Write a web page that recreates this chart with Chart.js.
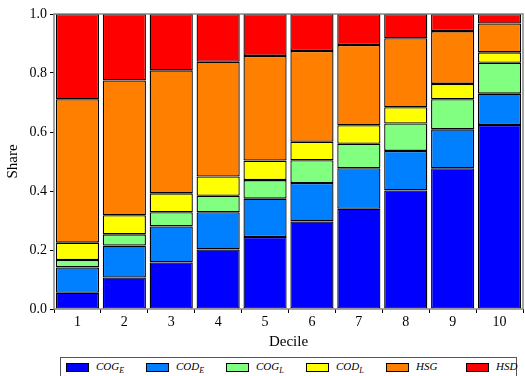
<!DOCTYPE html>
<html>
<head>
  <title>Share by decile</title>
  <script src="https://cdn.jsdelivr.net/npm/chart.js"></script>
  <style>
    body { margin: 0; background: #fff; }
    #wrap { position: relative; width: 525px; height: 376px; overflow: hidden; }
    #contenedor { position: absolute; left: 0; top: 0; width: 525px; height: 355px; }
    #leyenda {
      position: absolute; left: 60px; top: 357px; width: 457px; height: 26px;
      border: 1.5px solid #555; box-sizing: border-box;
      font-family: "Liberation Serif", serif; font-style: italic; font-size: 11px;
    }
    #leyenda .item { position: absolute; top: 2px; white-space: nowrap; }
    #leyenda .sw { display: inline-block; width: 21px; height: 7px; border: 1px solid #000; vertical-align: middle; margin-right: 7px; }
    #leyenda sub { font-size: 8px; }
  </style>
</head>
<body>
  <div id="wrap">
    <div id="contenedor"><canvas id="myChart"></canvas></div>
    <div id="leyenda"></div>
  </div>

  <script>
    // datos (participación de cada segmento por decil)
    var deciles = ['1', '2', '3', '4', '5', '6', '7', '8', '9', '10'];
    var cogE = [0.055, 0.107, 0.158, 0.202, 0.244, 0.297, 0.340, 0.402, 0.477, 0.624];
    var codE = [0.086, 0.108, 0.122, 0.126, 0.130, 0.130, 0.137, 0.134, 0.132, 0.106];
    var cogL = [0.025, 0.038, 0.048, 0.056, 0.063, 0.077, 0.083, 0.093, 0.102, 0.105];
    var codL = [0.059, 0.065, 0.064, 0.065, 0.066, 0.063, 0.063, 0.055, 0.052, 0.035];
    var hsg  = [0.486, 0.457, 0.417, 0.389, 0.355, 0.308, 0.272, 0.234, 0.179, 0.098];
    var hsd  = [0.289, 0.225, 0.191, 0.162, 0.142, 0.125, 0.105, 0.082, 0.058, 0.032];
    var yTicks = [0, 0.2, 0.4, 0.6, 0.8, 1.0];

    var series = [
      { name: 'COG', sub: 'E', data: cogE, color: '#0000ff' },
      { name: 'COD', sub: 'E', data: codE, color: '#0080ff' },
      { name: 'COG', sub: 'L', data: cogL, color: '#80ff80' },
      { name: 'COD', sub: 'L', data: codL, color: '#ffff00' },
      { name: 'HSG', sub: '',  data: hsg,  color: '#ff8000' },
      { name: 'HSD', sub: '',  data: hsd,  color: '#ff0000' }
    ];

    // leyenda en HTML para poder usar subíndices
    var leyenda = document.getElementById('leyenda');
    series.forEach(function(s, i) {
      var div = document.createElement('div');
      div.className = 'item';
      div.style.left = (5 + i * 80) + 'px';
      div.innerHTML = '<span class="sw" style="background:' + s.color + '"></span>' +
        s.name + (s.sub ? '<sub>' + s.sub + '</sub>' : '');
      leyenda.appendChild(div);
    });

    // marco gris alrededor del área de la gráfica
    var marco = {
      id: 'marco',
      afterDraw: function(chart) {
        var a = chart.chartArea, ctx = chart.ctx;
        ctx.save();
        ctx.strokeStyle = '#888';
        ctx.lineWidth = 1.5;
        ctx.strokeRect(a.left, a.top, a.right - a.left, a.bottom - a.top);
        ctx.restore();
      }
    };

    var fuente = { family: '"Liberation Serif", serif', size: 14 };
    var fuenteTitulo = { family: '"Liberation Serif", serif', size: 15 };

    var ctx = document.getElementById('myChart').getContext('2d');
    var myChart = new Chart(ctx, {
      type: 'bar',
      data: {
        labels: deciles,
        datasets: series.map(function(s) {
          return {
            label: s.name + s.sub,
            data: s.data,
            backgroundColor: s.color,
            borderColor: '#000',
            borderWidth: 1.3,
            borderSkipped: false,
            barPercentage: 0.92,
            categoryPercentage: 1.0
          };
        })
      },
      options: {
        responsive: true,
        maintainAspectRatio: false,
        animation: false,
        layout: { padding: { top: 14, right: 2, left: 0, bottom: 0 } },
        plugins: { legend: { display: false }, tooltip: { enabled: false } },
        scales: {
          x: {
            stacked: true,
            grid: { display: true, drawOnChartArea: false, drawTicks: true, tickLength: 4, color: '#000' },
            border: { display: false },
            ticks: { color: '#000', font: fuente, padding: 1 },
            title: { display: true, text: 'Decile', color: '#000', font: fuenteTitulo, padding: { top: 0 } },
            afterFit: function(scale) { scale.height = 46; }
          },
          y: {
            stacked: true,
            min: 0,
            max: 1,
            afterBuildTicks: function(scale) {
              scale.ticks = yTicks.map(function(v) { return { value: v }; });
            },
            grid: { display: true, drawOnChartArea: false, drawTicks: true, tickLength: 4, color: '#000' },
            border: { display: false },
            ticks: {
              color: '#000', font: fuente, padding: 3,
              callback: function(value) { return Number(value).toFixed(1); }
            },
            title: { display: true, text: 'Share', color: '#000', font: fuenteTitulo, padding: { bottom: 2 } },
            afterFit: function(scale) { scale.width = 54; }
          }
        }
      },
      plugins: [marco]
    });
  </script>
</body>
</html>
